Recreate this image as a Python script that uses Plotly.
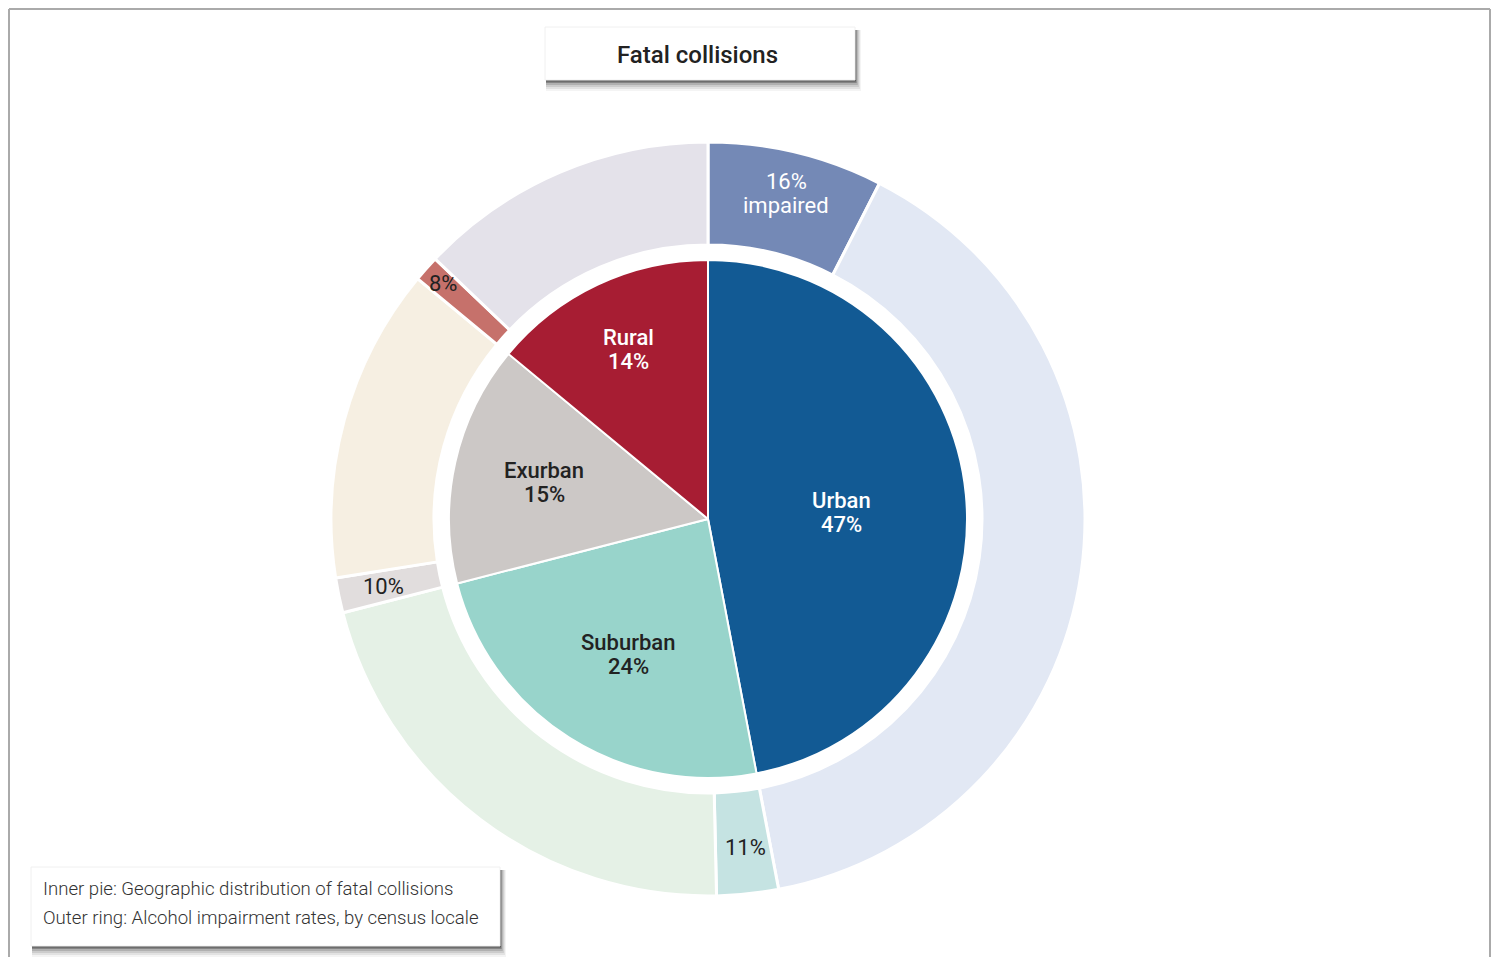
import math
import plotly.graph_objects as go

# ---- data ----
locales = ["Urban", "Suburban", "Exurban", "Rural"]
shares = [47, 24, 15, 14]              # % of fatal collisions
impaired_rates = [16, 11, 10, 8]       # % impaired within each locale

inner_colors = ["#125A94", "#98D4CB", "#CCC8C6", "#A71D33"]
inner_text_colors = ["white", "#222222", "#222222", "white"]
outer_imp_colors = ["#7489B6", "#C5E3E2", "#E1DDDD", "#C6716B"]
outer_rest_colors = ["#E2E8F4", "#E5F1E6", "#F6EFE2", "#E4E2EA"]

outer_labels, outer_values, outer_colors = [], [], []
for loc, s, r, ci, cr in zip(locales, shares, impaired_rates, outer_imp_colors, outer_rest_colors):
    outer_labels += [f"{loc} impaired", f"{loc} not impaired"]
    outer_values += [s * r / 100, s * (100 - r) / 100]
    outer_colors += [ci, cr]

# page geometry (browser body has an 8px margin)
OX, OY = 8, 8
W, H = 1491, 949
CX, CY = 708, 519
R_OUT, R_HOLE, R_IN = 377, 274, 259
FONT = "Roboto"


def fx(x):
    return (x - OX) / W


def fy(y):
    return 1 - (y - OY) / H


def px_dom(r):
    return dict(x=[fx(CX - r), fx(CX + r)], y=[fy(CY + r), fy(CY - r)])


fig = go.Figure()
fig.add_trace(go.Pie(
    labels=outer_labels, values=outer_values, sort=False, direction="clockwise", rotation=0,
    hole=R_HOLE / R_OUT, domain=px_dom(R_OUT),
    marker=dict(colors=outer_colors, line=dict(color="white", width=3)),
    textinfo="none", hoverinfo="label+percent", showlegend=False,
))
fig.add_trace(go.Pie(
    labels=locales, values=shares, sort=False, direction="clockwise", rotation=0,
    domain=px_dom(R_IN),
    marker=dict(colors=inner_colors, line=dict(color="white", width=2)),
    textinfo="none", hoverinfo="label+percent", showlegend=False,
))

annotations = []


def two_line(cx, cy, l1, l2, size, color, weight, gap=24):
    for txt, yy in [(l1, cy - gap / 2), (l2, cy + gap / 2)]:
        annotations.append(dict(x=fx(cx), y=fy(yy), xref="paper", yref="paper", text=txt,
                                showarrow=False, xanchor="center", yanchor="middle",
                                font=dict(family=FONT, size=size, color=color, weight=weight)))


total = sum(shares)

# ---- inner pie labels at each slice's mid-angle (small per-label nudges) ----
inner_label_r = [134, 160, 168, 187]
inner_nudge = [(0, 6), (6, 0), (0, 0), (0, 0)]
cum = 0
for i, s in enumerate(shares):
    mid = (cum + s / 2) / total * 2 * math.pi
    cum += s
    x = CX + inner_label_r[i] * math.sin(mid) + inner_nudge[i][0]
    y = CY - inner_label_r[i] * math.cos(mid) + inner_nudge[i][1]
    two_line(x, y, locales[i], f"{s}%", 22, inner_text_colors[i], 500)

# ---- outer ring labels at the mid-angle of each impaired slice ----
outer_label_r = [335, 330, 331, 354]
cum = 0
for i, (s, r) in enumerate(zip(shares, impaired_rates)):
    imp = s * r / 100
    mid = (cum + imp / 2) / total * 2 * math.pi
    cum += s
    x = CX + outer_label_r[i] * math.sin(mid)
    y = CY - outer_label_r[i] * math.cos(mid)
    if i == 0:
        two_line(x, y, f"{r}%", "impaired", 22, "white", 400)
    else:
        annotations.append(dict(x=fx(x + (3 if i == 1 else 0)), y=fy(y), xref="paper", yref="paper",
                                text=f"{r}%", showarrow=False, xanchor="center", yanchor="middle",
                                font=dict(family=FONT, size=22, color="#222222", weight=400)))

# title and note text
annotations.append(dict(x=fx(697), y=fy(55), xref="paper", yref="paper", text="Fatal collisions",
                        showarrow=False, font=dict(family=FONT, size=24, color="#222222", weight=500),
                        xanchor="center", yanchor="middle"))
for txt, yy in [("Inner pie: Geographic distribution of fatal collisions", 889),
                ("Outer ring: Alcohol impairment rates, by census locale", 918)]:
    annotations.append(dict(x=fx(41), y=fy(yy), xref="paper", yref="paper", text=txt,
                            showarrow=False, align="left",
                            font=dict(family=FONT, size=18.6, color="#333333", weight=300),
                            xanchor="left", yanchor="middle"))


def box(x0, y0, x1, y1):
    shapes = []
    # soft shadow layers (offset to lower right)
    for k, op in [(11, 0.05), (9, 0.08), (7, 0.11), (5, 0.16), (3, 0.3), (1.5, 0.45)]:
        shapes.append(dict(type="rect", xref="paper", yref="paper",
                           x0=fx(x0 + 1), x1=fx(x1 + k * 0.55),
                           y0=fy(y1 + k), y1=fy(y0 + 3),
                           fillcolor=f"rgba(30,30,30,{op})", line=dict(width=0), layer="above"))
    shapes.append(dict(type="rect", xref="paper", yref="paper", x0=fx(x0), x1=fx(x1),
                       y0=fy(y1), y1=fy(y0), fillcolor="white",
                       line=dict(color="#F0F0F0", width=1), layer="above"))
    return shapes


shapes = []
# frame
FR = "#AAAAAA"
shapes.append(dict(type="line", xref="paper", yref="paper", x0=fx(9), x1=fx(1490), y0=fy(9), y1=fy(9),
                   line=dict(color=FR, width=2)))
shapes.append(dict(type="line", xref="paper", yref="paper", x0=fx(9), x1=fx(9), y0=fy(9), y1=0,
                   line=dict(color=FR, width=2)))
shapes.append(dict(type="line", xref="paper", yref="paper", x0=fx(1490), x1=fx(1490), y0=fy(9), y1=0,
                   line=dict(color=FR, width=2)))
shapes += box(545, 27, 855, 80)
shapes += box(31, 867, 500, 946)

fig.update_layout(
    width=W, height=H, margin=dict(l=0, r=0, t=0, b=0),
    paper_bgcolor="white", plot_bgcolor="white",
    annotations=annotations, shapes=shapes,
    font=dict(family=FONT),
)

fig.write_html("out.html")
